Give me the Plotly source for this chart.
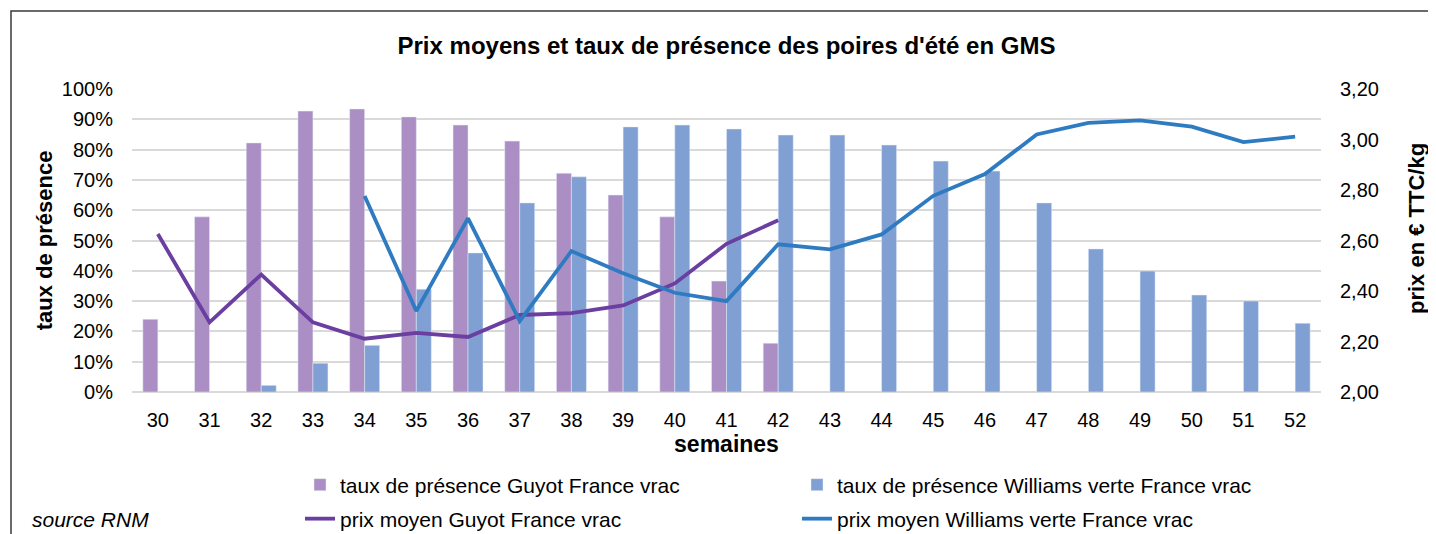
import plotly.graph_objects as go

weeks = [str(w) for w in range(30, 53)]

guyot_presence = [24.0, 57.8, 82.2, 92.7, 93.4, 90.8, 88.1, 82.8, 72.2, 65.0, 57.8, 36.6, 16.1,
                  None, None, None, None, None, None, None, None, None, None]
williams_presence = [None, None, 2.2, 9.5, 15.4, 33.9, 45.9, 62.4, 71.0, 87.5, 88.1, 86.8, 84.8,
                     84.8, 81.5, 76.2, 72.9, 62.4, 47.2, 39.9, 32.0, 30.0, 22.7]
guyot_price = [2.626, 2.276, 2.465, 2.276, 2.211, 2.234, 2.218, 2.305, 2.312, 2.343, 2.430, 2.587, 2.680,
               None, None, None, None, None, None, None, None, None, None]
williams_price = [None, None, None, None, 2.776, 2.321, 2.688, 2.281, 2.558, 2.470, 2.393, 2.360, 2.585,
                  2.565, 2.624, 2.777, 2.863, 3.020, 3.066, 3.076, 3.051, 2.990, 3.011]

names = ["taux de présence Guyot France vrac", "taux de présence Williams verte France vrac",
         "prix moyen Guyot France vrac", "prix moyen Williams verte France vrac"]

C_GB = "#AB8FC4"
C_WB = "#809FD3"
C_GL = "#6B3FA0"
C_WL = "#2F7BC2"
FONT = "Liberation Sans"

fig = go.Figure()
fig.add_trace(go.Bar(x=weeks, y=guyot_presence, name=names[0], marker_color=C_GB, yaxis="y",
                     legend="legend"))
fig.add_trace(go.Bar(x=weeks, y=williams_presence, name=names[1], marker_color=C_WB, yaxis="y",
                     legend="legend"))
fig.add_trace(go.Scatter(x=weeks, y=guyot_price, name=names[2], mode="lines",
                         line=dict(color=C_GL, width=3.8), yaxis="y2", legend="legend2"))
fig.add_trace(go.Scatter(x=weeks, y=williams_price, name=names[3], mode="lines",
                         line=dict(color=C_WL, width=3.8), yaxis="y2", legend="legend2"))

# page body has an 8px margin: work in screen coordinates and subtract it
OFF = 8
W, H = 1436 - OFF, 534 - OFF
PL, PR, PT, PB = 132, 1321, 89, 392  # plot area in screen pixels
L, R, T, B = PL - OFF, 1436 - PR, PT - OFF, 534 - PB
pw, ph = W - L - R, H - T - B

def px(x):
    return (x - OFF - L) / pw

def py(y):
    return (H - B - (y - OFF)) / ph

leg_common = dict(orientation="h", xanchor="left", yanchor="middle",
                  entrywidth=452, entrywidthmode="pixels", traceorder="normal",
                  font=dict(size=21), bgcolor="rgba(0,0,0,0)")

fig.update_layout(
    width=W, height=H,
    margin=dict(l=L, r=R, t=T, b=B, autoexpand=False),
    paper_bgcolor="white", plot_bgcolor="white",
    font=dict(family=FONT, size=20, color="#000000"),
    separators=", ",
    barmode="group", bargap=0.42, bargroupgap=0,
    title=dict(text="<b>Prix moyens et taux de présence des poires d'été en GMS</b>",
               x=0.5, xref="paper", xanchor="center", y=1 - (46 - OFF) / H, yanchor="middle",
               font=dict(size=24, family=FONT)),
    xaxis=dict(type="category", showgrid=False, showline=False, ticks="",
               ticklabelstandoff=14,
               title=dict(text="<b>semaines</b>", standoff=4, font=dict(size=23))),
    yaxis=dict(range=[0, 100], dtick=10, ticksuffix="%", showgrid=True,
               gridcolor="#D9D9D9", gridwidth=1.5, zeroline=True, zerolinecolor="#D9D9D9",
               zerolinewidth=1.5, showline=False, ticks="", ticklabelstandoff=18,
               title=dict(text="<b>taux de présence</b>", standoff=3, font=dict(size=22))),
    yaxis2=dict(range=[2.0, 3.2], dtick=0.2, tickformat=".2f", overlaying="y", side="right",
                showgrid=False, zeroline=False, showline=False, ticks="", ticklabelstandoff=18),
    legend=dict(x=px(300), y=py(485), **leg_common),
    legend2=dict(x=px(300), y=py(519), **leg_common),
    shapes=[dict(type="rect", xref="paper", yref="paper",
                 x0=px(11), x1=px(1470), y0=py(580), y1=py(11),
                 line=dict(color="#3A3A3A", width=1.5), fillcolor="rgba(0,0,0,0)", layer="below")],
    annotations=[
        dict(text="<i>source RNM</i>", xref="paper", yref="paper",
             x=px(30), y=py(519), xanchor="left", yanchor="middle",
             showarrow=False, font=dict(size=21, family=FONT)),
        dict(text="<b>prix en € TTC/kg</b>", xref="paper", yref="paper",
             x=px(1416), y=py(229), xanchor="center", yanchor="middle", textangle=-90,
             showarrow=False, font=dict(size=22, family=FONT)),
    ],
)

fig.write_html("out.html")
